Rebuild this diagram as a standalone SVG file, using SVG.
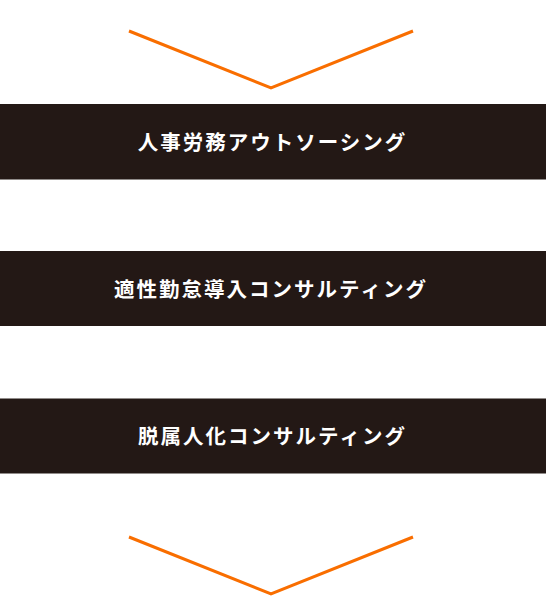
<svg xmlns="http://www.w3.org/2000/svg" width="546" height="596" viewBox="0 0 546 596">
<style>
.box{fill:#231815}
.lbl{fill:#ffffff;font-family:"Noto Sans CJK JP","Noto Sans CJK SC",sans-serif;font-weight:700;font-size:20.5px;letter-spacing:2px;text-anchor:middle}
.chev{fill:none;stroke:#f96e00;stroke-width:3}
</style>
<rect width="546" height="596" fill="#ffffff"/>
<g id="connectors">
<polyline class="chev" points="129,31 271,88 413,31"/>
<polyline class="chev" points="129,537 271,594 413,537"/>
</g>
<g id="node1">
<rect class="box" x="0" y="104" width="546" height="75.5"/>
<text class="lbl" x="272.5" y="150">人事労務アウトソーシング</text>
</g>
<g id="node2">
<rect class="box" x="0" y="251" width="546" height="75"/>
<text class="lbl" x="271" y="297">適性勤怠導入コンサルティング</text>
</g>
<g id="node3">
<rect class="box" x="0" y="398.5" width="546" height="75"/>
<text class="lbl" x="272.5" y="444">脱属人化コンサルティング</text>
</g>
</svg>
